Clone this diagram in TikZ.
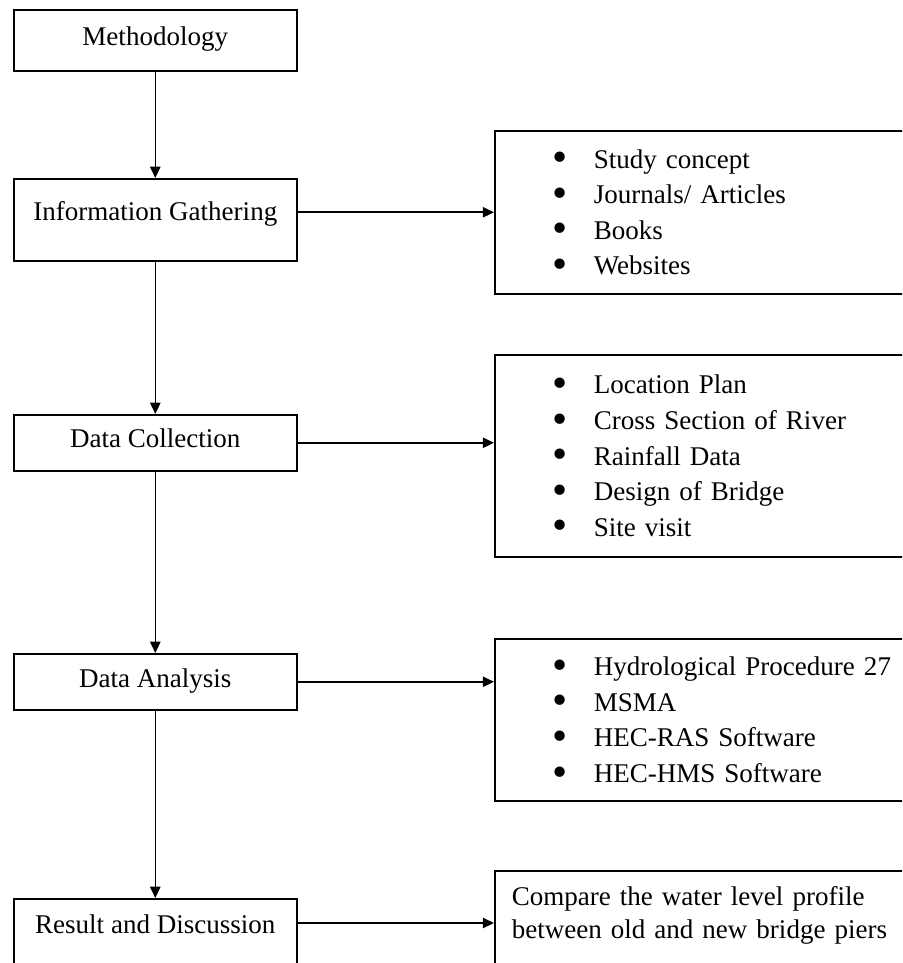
\documentclass[tikz,border=0pt]{standalone}
\usepackage{fontspec}
\setmainfont{Liberation Serif}
\usepackage{tikz}
\usetikzlibrary{arrows.meta,positioning,calc}
\newlength{\px}
\setlength{\px}{0.444pt}
\newcommand{\itm}{\makebox[40\px][l]{\hspace{-1\px}\smash{\raisebox{-1.6pt}{\scalebox{1.6}{\textbullet}}}}}
\tikzset{
  stagebox/.style={draw, line width=0.7pt, inner sep=0pt, minimum width=283\px,
                   font=\fontsize{12}{15.8}\selectfont, anchor=north west},
  listbox/.style={draw, line width=0.7pt, inner xsep=59\px, inner ysep=0pt,
                  text width=342\px, align=left, anchor=north west,
                  font=\fontsize{12}{15.8}\selectfont},
  flowarrow/.style={-{Triangle[length=5pt,width=4.6pt]}, line width=0.7pt}
}

\begin{document}
\begin{tikzpicture}[x=\px, y=-\px,
      stagebox/.style={draw, line width=0.7pt, inner sep=0pt, minimum width=283\px,
                       font=\fontsize{12}{15.8}\selectfont, anchor=north west},
      flowarrow/.style={-{Triangle[length=5pt,width=4.6pt]}, line width=0.7pt}
    ]
    \useasboundingbox (0,0) rectangle (902,963);
    \clip (0,0) rectangle (902,963);
    \def\xL{13} \def\xR{494}

    % Stages
    \node[stagebox, text height=36\px, text depth=25\px] (meth) at (\xL,9) {Methodology};
    \node[stagebox, text height=42\px, text depth=40\px] (info) at (\xL,178) {Information Gathering};
    \node[stagebox, text height=33\px, text depth=23\px] (dc) at (\xL,414) {Data Collection};
    \node[stagebox, text height=34\px, text depth=22\px] (da) at (\xL,653) {Data Analysis};
    \node[stagebox, text height=35\px, text depth=90\px] (res) at (\xL,898) {Result and Discussion};

    % Lists on the right
    \node[listbox, minimum height=163\px] (srcs) at (\xR,130) {
      \itm Study concept\\
      \itm Journals/ Articles\\
      \itm Books\\
      \itm Websites
    };
    \node[listbox, minimum height=202\px] (data) at (\xR,354) {
      \itm Location Plan\\
      \itm Cross Section of River\\
      \itm Rainfall Data\\
      \itm Design of Bridge\\
      \itm Site visit
    };
    \node[listbox, minimum height=162\px] (tools) at (\xR,638) {
      \itm Hydrological Procedure 27\\
      \itm MSMA\\
      \itm HEC-RAS Software\\
      \itm HEC-HMS Software
    };
    \node[listbox, inner xsep=17\px, text width=426\px, text height=35\px, text depth=100\px,
          font=\fontsize{12}{14.65}\selectfont] (cmp) at (\xR,870) {
      Compare the water level profile\\
      between old and new bridge piers
    };

    % Flow down
    \draw[flowarrow] (meth) -- (info);
    \draw[flowarrow] (info) -- (dc);
    \draw[flowarrow] (dc) -- (da);
    \draw[flowarrow] (da) -- (res);

    % Flow right
    \draw[flowarrow] (info.east |- srcs.west) -- (srcs.west);
    \draw[flowarrow] (dc.east) -- (dc.east -| data.west);
    \draw[flowarrow] (da.east) -- (da.east -| tools.west);
    \coordinate (resout) at ($(res.north east)+(0,25)$);
    \draw[flowarrow] (resout) -- (resout -| cmp.west);
  \end{tikzpicture}
\end{document}
